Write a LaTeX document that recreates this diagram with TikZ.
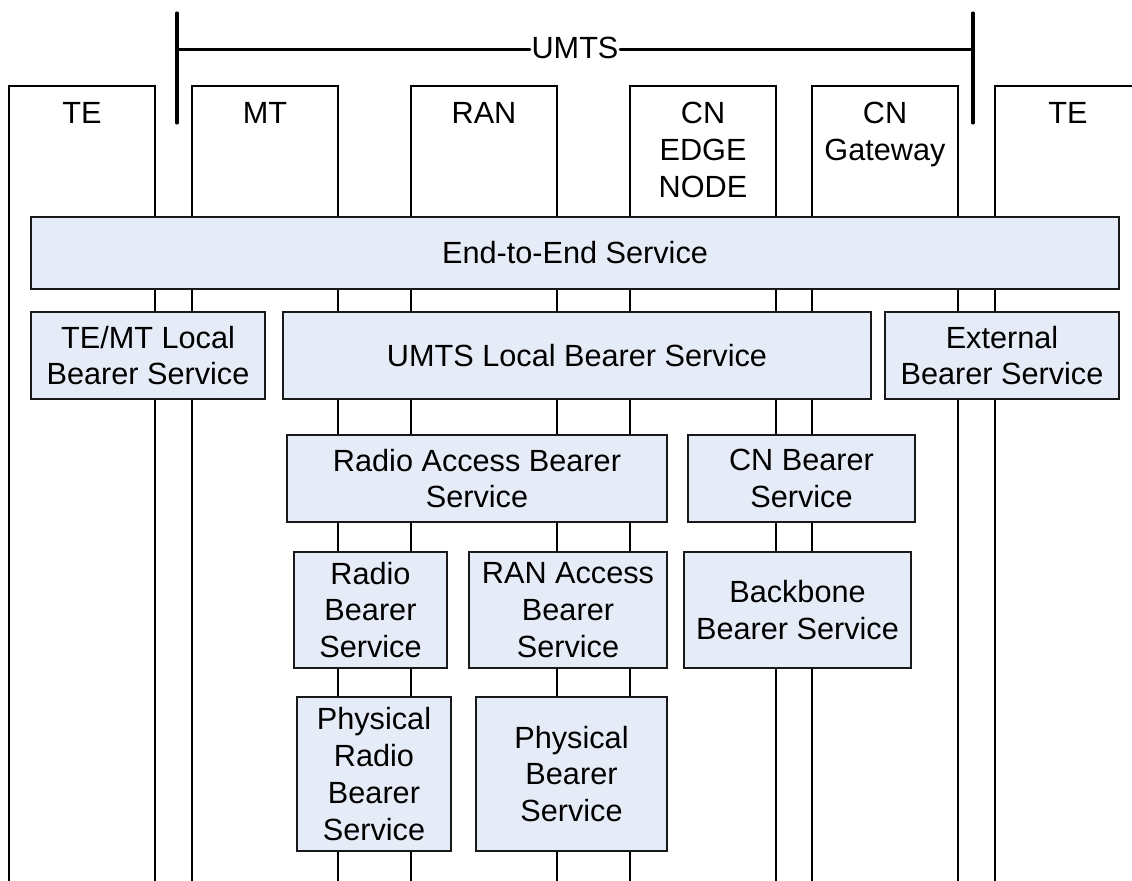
\documentclass[tikz,border=0pt]{standalone}
\usepackage{fontspec}
\setmainfont{Liberation Sans}
\definecolor{svcfill}{RGB}{230,236,247}
\definecolor{svcline}{RGB}{25,25,25}

% service box: name, x1, y1, x2, y2, text (pixel-like units, y downwards)
\newcommand\servicebox[6]{%
  \node[svcbox, minimum width={(#4-#2)*0.75pt}, minimum height={(#5-#3)*0.75pt}]
    (#1) at ({(#2+#4)/2},{(#3+#5)/2}) {#6};}

% open-bottom column outline: left x, right x
\newcommand\column[2]{%
  \draw[colline] (#1,881) -- (#1,86) -- (#2,86) -- (#2,881);}

\begin{document}
\begin{tikzpicture}[x=0.75pt, y=-0.75pt,
  txt/.style={font=\fontsize{23}{27.6}\selectfont, align=center, inner sep=0pt},
  svcbox/.style={txt, draw=svcline, fill=svcfill, line width=1.1pt, rectangle},
  collabel/.style={txt, anchor=north},
  colline/.style={draw=black, line width=1.1pt, line join=miter},
  bracket/.style={draw=black, line width=2.3pt, line cap=round}]

\useasboundingbox (0,0) rectangle (1132,881);
\fill[white] (0,0) rectangle (1132,881);

% network element columns
\column{9}{155}
\column{192}{338}
\column{411}{557}
\column{630}{776}
\column{812}{958}
\draw[colline] (995,881) -- (995,86) -- (1132,86);

\node[collabel] (te1) at (82,102) {TE};
\node[collabel] (mt) at (265,102) {MT};
\node[collabel] (ran) at (484,102) {RAN};
\node[collabel] (cnedge) at (703,102) {CN\\EDGE\\NODE};
\node[collabel] (cngw) at (885,102) {CN\\Gateway};
\node[collabel] (te2) at (1068,102) {TE};

% UMTS bracket
\coordinate (bl) at (177,49.5);
\coordinate (br) at (973,49.5);
\node[txt, inner xsep=1pt] (umts) at (575,48) {UMTS};
\draw[bracket] (177,13) -- (177,123);
\draw[bracket] (973,13) -- (973,123);
\draw[bracket] (bl) -- (umts.west |- bl);
\draw[bracket] (umts.east |- br) -- (br);

% bearer service hierarchy
\servicebox{e2e}{31}{217}{1119}{289}{End-to-End Service}
\servicebox{temt}{31}{312}{265}{399}{TE/MT Local\\Bearer Service}
\servicebox{umtsl}{283}{312}{871}{399}{UMTS Local Bearer Service}
\servicebox{ext}{885}{312}{1119}{399}{External\\Bearer Service}
\servicebox{rab}{287}{435}{667}{522}{Radio Access Bearer\\Service}
\servicebox{cnb}{688}{435}{915}{522}{CN Bearer\\Service}
\servicebox{rb}{294}{552}{447}{668}{Radio\\Bearer\\Service}
\servicebox{ranab}{469}{552}{667}{668}{RAN Access\\Bearer\\Service}
\servicebox{bb}{684}{552}{911}{668}{Backbone\\Bearer Service}
\servicebox{prb}{297}{697}{451}{851}{Physical\\Radio\\Bearer\\Service}
\servicebox{pb}{476}{697}{667}{851}{Physical\\Bearer\\Service}

\end{tikzpicture}
\end{document}
